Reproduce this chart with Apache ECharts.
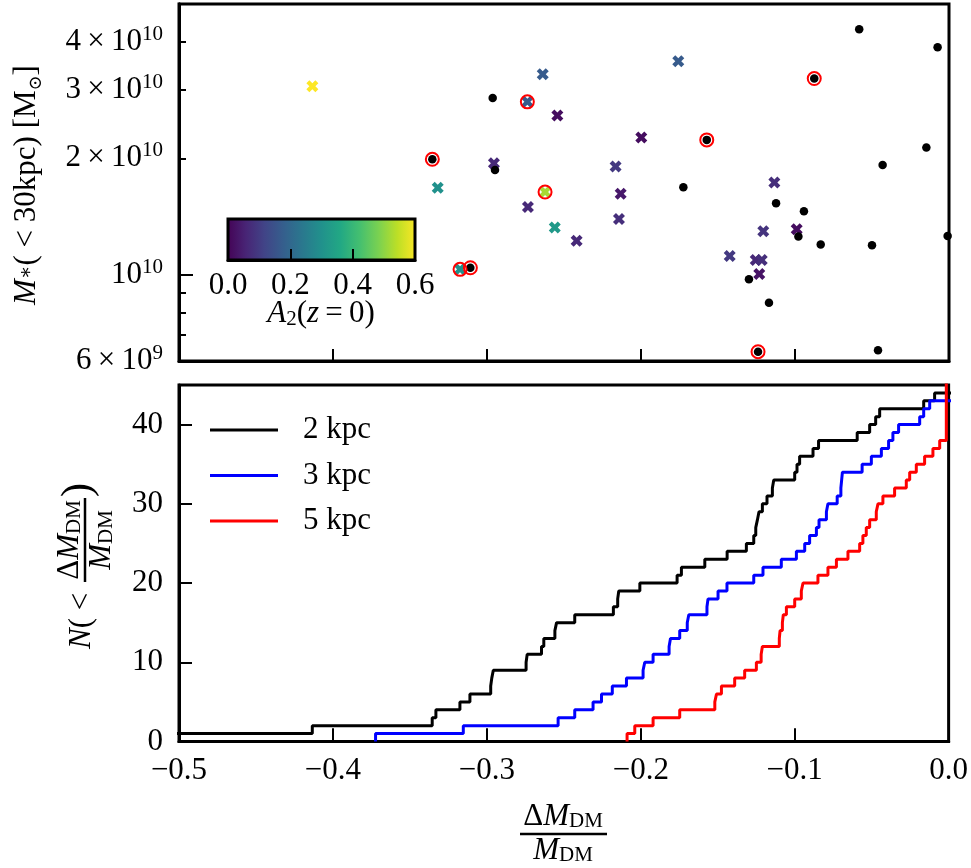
<!DOCTYPE html>
<html><head><meta charset="utf-8">
<script src="https://cdn.jsdelivr.net/npm/echarts@6/dist/echarts.min.js"></script>
<style>html,body{margin:0;padding:0;background:#fff}#c{width:971px;height:868px}</style>
</head><body><div id="c"></div>
<script>
// ---------- top panel data (x = dM_DM/M_DM, y = M* in Msun) ----------
const dotX = [-0.5005,-0.3355,-0.3108,-0.2963,-0.2948,-0.1725,-0.1573,-0.0875,-0.0583,-0.0074,-0.0147,-0.0431,-0.1123,-0.0942,-0.0978,-0.0833,-0.0500,-0.0009,-0.1299,-0.1169,-0.1240,-0.0461];
const dotM = [1.578e10,1.988e10,1.044e10,2.863e10,1.866e10,1.684e10,2.231e10,3.211e10,4.306e10,3.870e10,2.131e10,1.922e10,1.531e10,1.460e10,1.256e10,1.198e10,1.193e10,1.260e10,9.75e9,8.48e9,6.34e9,6.40e9];
const crossX = [-0.4134,-0.3320,-0.3175,-0.2955,-0.2738,-0.2638,-0.2543,-0.2734,-0.2623,-0.2560,-0.2418,-0.2165,-0.2132,-0.2143,-0.1998,-0.1758,-0.1134,-0.1206,-0.0989,-0.1424,-0.1255,-0.1216,-0.1232];
const crossM = [3.07e10,1.68e10,1.034e10,1.942e10,2.796e10,3.296e10,2.577e10,1.498e10,1.637e10,1.325e10,1.226e10,1.904e10,1.621e10,1.395e10,2.262e10,3.559e10,1.731e10,1.296e10,1.312e10,1.12e10,1.093e10,1.093e10,1.006e10];
const crossA2 = [0.62,0.30,0.30,0.07,0.17,0.17,0.02,0.07,0.52,0.32,0.07,0.10,0.04,0.08,0.02,0.17,0.08,0.09,0.02,0.10,0.07,0.08,0.03];
const ringX = [-0.3355,-0.3175,-0.3108,-0.2738,-0.2623,-0.1573,-0.0875,-0.1240];
const ringM = [1.988e10,1.034e10,1.044e10,2.796e10,1.637e10,2.231e10,3.211e10,6.34e9];
const massLabelTicks = [6e9,1e10,2e10,3e10,4e10];
const massMinorTicks = [6e9,7e9,8e9,9e9,2e10,3e10,4e10];
const massMajorTicks = [1e10];
const xTicks = [-0.5,-0.4,-0.3,-0.2,-0.1,0];

// ---------- bottom panel data: cumulative counts (step positions, N levels) ----------
const kpc2X = [-0.55,-0.4134,-0.3355,-0.3331,-0.3175,-0.3110,-0.2975,-0.2968,-0.2958,-0.2745,-0.2738,-0.2645,-0.2630,-0.2558,-0.2547,-0.2429,-0.2178,-0.2150,-0.2143,-0.2006,-0.1764,-0.1736,-0.1584,-0.1439,-0.1314,-0.1266,-0.1253,-0.1242,-0.1232,-0.1210,-0.1180,-0.1145,-0.1136,-0.1000,-0.0985,-0.0968,-0.0881,-0.0845,-0.0594,-0.0513,-0.0474,-0.0448,-0.0162,-0.0091,0.02];
const kpc2N = [1,2,3,4,5,6,7,8,9,10,11,12,13,14,15,16,17,18,19,20,21,22,23,24,25,26,27,28,29,30,31,32,33,34,35,36,37,38,39,40,41,42,43,44,44];
const kpc3X = [-0.3723,-0.3723,-0.3153,-0.2537,-0.2429,-0.2310,-0.2255,-0.2185,-0.2093,-0.1985,-0.1974,-0.1920,-0.1816,-0.1807,-0.1747,-0.1698,-0.1688,-0.1570,-0.1563,-0.1498,-0.1440,-0.1266,-0.1206,-0.1087,-0.0989,-0.0935,-0.0903,-0.0859,-0.0842,-0.0794,-0.0784,-0.0724,-0.0700,-0.0695,-0.0690,-0.0562,-0.0502,-0.0437,-0.0390,-0.0362,-0.0325,-0.0188,-0.0162,-0.0123,0.02];
const kpc3N = [0,1,2,3,4,5,6,7,8,9,10,11,12,13,14,15,16,17,18,19,20,21,22,23,24,25,26,27,28,29,30,31,32,33,34,35,36,37,38,39,40,41,42,43,43];
const kpc5X = [-0.2089,-0.2089,-0.2039,-0.1920,-0.1747,-0.1519,-0.1508,-0.1476,-0.1390,-0.1325,-0.1249,-0.1218,-0.1210,-0.1100,-0.1095,-0.1080,-0.1074,-0.1054,-0.1000,-0.0957,-0.0946,-0.0849,-0.0784,-0.0729,-0.0654,-0.0578,-0.0557,-0.0535,-0.0513,-0.0470,-0.0459,-0.0427,-0.0351,-0.0275,-0.0253,-0.0210,-0.0156,-0.0102,-0.0058,-0.0015,0.02];
const kpc5N = [0,1,2,3,4,5,6,7,8,9,10,11,12,13,14,15,16,17,18,19,20,21,22,23,24,25,26,27,28,29,30,31,32,33,34,35,36,37,38,46,46];
const seriesNames = ['2 kpc','3 kpc','5 kpc'];
const countTicks = [0,10,20,30,40];
const colorbarTicks = [0,0.2,0.4,0.6];

// ---------- styling ----------
const SERIF = '"Liberation Serif","DejaVu Serif",serif';
const FS = 31;
const VIRIDIS = ['#440154','#482475','#414487','#355f8d','#2a788e','#21918c','#22a884','#44bf70','#7ad151','#bddf26','#fde725'];
const crossPath = 'path://M0,2.5 L2.5,0 L5,2.5 L7.5,0 L10,2.5 L7.5,5 L10,7.5 L7.5,10 L5,7.5 L2.5,10 L0,7.5 L2.5,5 Z';
const tickLine = {color:'#000', width:2};
const axLine = {show:true, onZero:false, lineStyle:{color:'#000', width:3}};

function zip(a,b,c){return a.map((v,i)=> c ? [v,b[i],c[i]] : [v,b[i]]);}
function fmtMass(v){
  const e = Math.floor(Math.log10(v)+1e-9);
  const m = Math.round(v/Math.pow(10,e));
  if (m === 1) return '{m|10}{s|' + e + '}';
  return '{m|' + m + '\u2009×\u200910}{s|' + e + '}';
}
function fmtX(v){ if (Math.abs(v) < 1e-9) return '0.0'; return (v<0?'−':'') + Math.abs(v).toFixed(1); }
// thin strip grids along the bottom of each panel; their split lines act as inward x ticks
function tickStripAxis(gi, mn, mx, step){
  return {gridIndex:gi, type:'value', min:mn, max:mx, interval:step,
    axisLine:{show:false}, axisTick:{show:false}, axisLabel:{show:false},
    splitLine:{show:true, lineStyle:{color:'#000', width:2, type:'solid'}}};
}

const chart = echarts.init(document.getElementById('c'), null, {renderer:'canvas'});
const massRich = {
  m:{fontFamily:SERIF, fontSize:FS, color:'#000', lineHeight:36},
  s:{fontFamily:SERIF, fontSize:21, color:'#000', lineHeight:21, verticalAlign:'top'}
};
const subRich = {fontFamily:SERIF, fontSize:21, fill:'#000', verticalAlign:'bottom', lineHeight:21};

const option = {
  backgroundColor:'#fff',
  animation:false,
  grid:[
    {left:179, top:4, width:770, height:357, show:true, borderColor:'#000', borderWidth:3, backgroundColor:'transparent'},
    {left:179, top:385, width:770, height:356.5, show:true, borderColor:'#000', borderWidth:3, backgroundColor:'transparent'},
    {left:228, top:219, width:187, height:41, show:true, borderColor:'#000', borderWidth:3,
     backgroundColor:new echarts.graphic.LinearGradient(0,0,1,0, VIRIDIS.map((c,i)=>({offset:i/(VIRIDIS.length-1), color:c})))},
    {left:179, top:349, width:770, height:12, show:false},
    {left:179, top:728.5, width:770, height:13, show:false},
    {left:228, top:249, width:187, height:11, show:false}
  ],
  xAxis:[
    {gridIndex:0, type:'value', position:'bottom', min:-0.5, max:0, interval:0.1,
     axisLine:axLine, splitLine:{show:false}, axisLabel:{show:false},
     axisTick:{show:true, inside:true, length:12, lineStyle:tickLine}},
    {gridIndex:1, type:'value', position:'bottom', min:-0.5, max:0, interval:0.1,
     axisLine:axLine, splitLine:{show:false},
     axisTick:{show:true, inside:true, length:13, lineStyle:tickLine},
     axisLabel:{customValues:xTicks, formatter:fmtX, fontFamily:SERIF, fontSize:FS, color:'#000', margin:14}},
    {gridIndex:2, type:'value', position:'bottom', min:0, max:0.6, interval:0.2,
     axisLine:axLine, splitLine:{show:false},
     axisTick:{show:true, inside:true, length:11, lineStyle:tickLine},
     axisLabel:{formatter:v=>v.toFixed(1), fontFamily:SERIF, fontSize:FS, color:'#000', margin:10, customValues:colorbarTicks}},
    tickStripAxis(3, -0.5, 0, 0.1),
    tickStripAxis(4, -0.5, 0, 0.1),
    tickStripAxis(5, 0, 0.6, 0.2)
  ],
  yAxis:[
    {gridIndex:0, type:'log', logBase:10, position:'left', min:6e9, max:5e10,
     axisLine:axLine, splitLine:{show:false}, minorTick:{show:false},
     axisTick:{show:true, inside:true, length:7, lineStyle:tickLine, customValues:massMinorTicks},
     axisLabel:{customValues:massLabelTicks, formatter:fmtMass, margin:16, rich:massRich}},
    {gridIndex:0, type:'log', logBase:10, position:'left', offset:0, min:6e9, max:5e10,
     axisLine:axLine, splitLine:{show:false}, minorTick:{show:false}, axisLabel:{show:false},
     axisTick:{show:true, inside:true, length:14, lineStyle:tickLine, customValues:massMajorTicks}},
    {gridIndex:1, type:'value', position:'left', min:0, max:45,
     axisLine:axLine, splitLine:{show:false},
     axisTick:{show:true, inside:true, length:13, lineStyle:tickLine, customValues:countTicks},
     axisLabel:{customValues:countTicks, fontFamily:SERIF, fontSize:FS, color:'#000', margin:16}},
    {gridIndex:2, type:'value', position:'left', min:0, max:1, show:false},
    {gridIndex:3, type:'value', min:0, max:1, show:false},
    {gridIndex:4, type:'value', min:0, max:1, show:false},
    {gridIndex:5, type:'value', min:0, max:1, show:false}
  ],
  visualMap:{type:'continuous', show:false, min:0, max:0.6, dimension:2, seriesIndex:0, inRange:{color:VIRIDIS}},
  legend:{
    orient:'vertical', left:205, top:407, itemWidth:68, itemHeight:3, itemGap:9.5, icon:'rect',
    data:seriesNames,
    textStyle:{fontFamily:SERIF, fontSize:FS, color:'#000', lineHeight:36, padding:[0,0,0,20]}
  },
  series:[
    {type:'scatter', name:'A2', xAxisIndex:0, yAxisIndex:0, data:zip(crossX,crossM,crossA2),
     symbol:crossPath, symbolSize:12, itemStyle:{opacity:1}, z:3},
    {type:'scatter', name:'dots', xAxisIndex:0, yAxisIndex:0, data:zip(dotX,dotM),
     symbol:'circle', symbolSize:8.5, itemStyle:{color:'#000', opacity:1}, z:4},
    {type:'scatter', name:'rings', xAxisIndex:0, yAxisIndex:0, data:zip(ringX,ringM),
     symbol:'circle', symbolSize:13, itemStyle:{color:'rgba(0,0,0,0)', borderColor:'#ff0000', borderWidth:2, opacity:1}, z:5},
    {type:'line', name:seriesNames[0], xAxisIndex:1, yAxisIndex:2, step:'end', data:zip(kpc2X,kpc2N),
     showSymbol:false, symbol:'none', color:'#000', lineStyle:{color:'#000', width:3}, clip:true},
    {type:'line', name:seriesNames[1], xAxisIndex:1, yAxisIndex:2, step:'end', data:zip(kpc3X,kpc3N),
     showSymbol:false, symbol:'none', color:'#0000ff', lineStyle:{color:'#0000ff', width:3}, clip:true},
    {type:'line', name:seriesNames[2], xAxisIndex:1, yAxisIndex:2, step:'end', data:zip(kpc5X,kpc5N),
     showSymbol:false, symbol:'none', color:'#ff0000', lineStyle:{color:'#ff0000', width:3}, clip:true}
  ],
  graphic:[
    // colorbar label
    {type:'text', x:321, y:314, style:{text:'{i|A}{sb|2}{r|(}{i|z}{r|\u2009=\u20090)}', align:'center', verticalAlign:'middle',
      rich:{i:{fontFamily:SERIF, fontSize:FS, fontStyle:'italic', fill:'#000'}, r:{fontFamily:SERIF, fontSize:FS, fill:'#000'}, sb:subRich}}},
    // top y label
    {type:'text', x:27, y:185, rotation:Math.PI/2, style:{text:'{i|M}{st|∗}{r|( < 30kpc) [M}{sb|⊙}{r|]}', align:'center', verticalAlign:'middle',
      rich:{i:{fontFamily:SERIF, fontSize:FS, fontStyle:'italic', fill:'#000', lineHeight:36},
            r:{fontFamily:SERIF, fontSize:FS, fill:'#000', lineHeight:36},
            st:{fontFamily:SERIF, fontSize:20, fill:'#000'},
            sb:{fontFamily:'"DejaVu Serif",serif', fontSize:18, fill:'#000', verticalAlign:'bottom', lineHeight:18}}}},
    // bottom y label (rotated fraction)
    {type:'group', x:85, y:563, rotation:Math.PI/2, children:[
      {type:'text', x:-22, y:-3, style:{text:'{i|N}{r|( < }', align:'right', verticalAlign:'middle',
        rich:{i:{fontFamily:SERIF, fontSize:FS, fontStyle:'italic', fill:'#000'}, r:{fontFamily:SERIF, fontSize:FS, fill:'#000'}}}},
      {type:'line', shape:{x1:-19, y1:0, x2:65, y2:0}, style:{stroke:'#000', lineWidth:2.5}},
      {type:'text', x:23, y:-15, style:{text:'{r|Δ}{i|M}{sb|DM}', align:'center', verticalAlign:'middle',
        rich:{i:{fontFamily:SERIF, fontSize:FS, fontStyle:'italic', fill:'#000', lineHeight:30}, r:{fontFamily:SERIF, fontSize:FS, fill:'#000', lineHeight:30}, sb:subRich}}},
      {type:'text', x:23, y:17, style:{text:'{i|M}{sb|DM}', align:'center', verticalAlign:'middle',
        rich:{i:{fontFamily:SERIF, fontSize:FS, fontStyle:'italic', fill:'#000', lineHeight:30}, sb:subRich}}},
      {type:'text', x:66, y:-6, style:{text:')', align:'left', verticalAlign:'middle', fontFamily:SERIF, fontSize:42, fill:'#000'}}
    ]},
    // bottom x label (fraction)
    {type:'group', x:563, y:834, children:[
      {type:'text', x:0, y:-17, style:{text:'{r|Δ}{i|M}{sb|DM}', align:'center', verticalAlign:'middle',
        rich:{i:{fontFamily:SERIF, fontSize:FS, fontStyle:'italic', fill:'#000', lineHeight:30}, r:{fontFamily:SERIF, fontSize:FS, fill:'#000', lineHeight:30}, sb:subRich}}},
      {type:'line', shape:{x1:-43, y1:0, x2:44, y2:0}, style:{stroke:'#000', lineWidth:2.5}},
      {type:'text', x:0, y:17, style:{text:'{i|M}{sb|DM}', align:'center', verticalAlign:'middle',
        rich:{i:{fontFamily:SERIF, fontSize:FS, fontStyle:'italic', fill:'#000', lineHeight:30}, sb:subRich}}}
    ]}
  ]
};
chart.setOption(option);
</script></body></html>
